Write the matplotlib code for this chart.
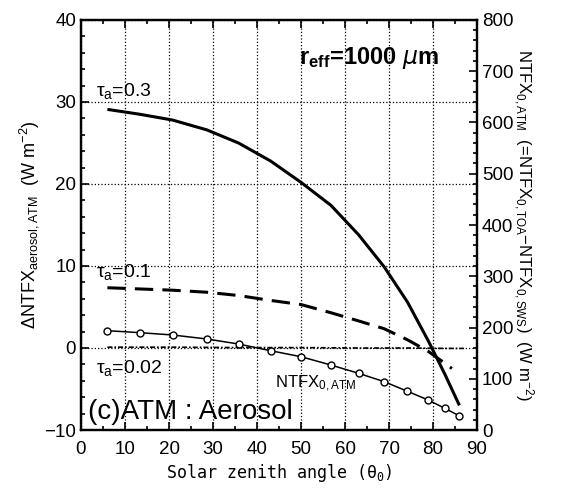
import matplotlib
matplotlib.use("Agg")
import matplotlib.pyplot as plt
from matplotlib.ticker import MultipleLocator

plt.rcParams['font.family'] = ['Liberation Sans', 'DejaVu Sans']
plt.rcParams['mathtext.default'] = 'regular'

# solar zenith angle grid (deg)
theta = [6.0, 13.4, 20.8, 28.6, 35.8, 43.1, 50.0, 56.8, 63.1, 68.9, 74.2, 78.9, 82.7, 86.0]

# Delta NTFX aerosol (left axis, W m-2)
tau_03 = [29.1, 28.5, 27.8, 26.6, 25.0, 22.8, 20.2, 17.4, 13.8, 9.9, 5.6, 0.9, -3.2, -7.0]
theta_01 = [6.0, 13.4, 20.8, 28.6, 35.8, 43.1, 50.0, 56.8, 63.1, 68.9, 74.2, 78.9, 82.0, 84.3]
tau_01 = [7.35, 7.2, 7.05, 6.8, 6.4, 5.8, 5.3, 4.3, 3.3, 2.35, 1.0, -0.4, -1.6, -2.5]
theta_002 = [6.0, 20.8, 35.8, 50.0, 63.1, 74.2, 82.7, 87.0]
tau_002 = [0.1, 0.1, 0.05, 0.05, 0.0, 0.0, -0.05, -0.05]

# NTFX_0,ATM (right axis, W m-2)
ntfx_atm = [193.8, 189.9, 185.4, 177.6, 167.8, 154.7, 143.0, 126.8, 110.6, 94.3, 75.5, 58.5, 42.3, 27.5]

fig = plt.figure(figsize=(5.65, 4.9), dpi=100)
ax = fig.add_axes([81 / 565, 60 / 490, 396 / 565, 410 / 490])
ax2 = ax.twinx()

ax.plot(theta, tau_03, color="black", lw=2.2, solid_capstyle="butt")
ax.plot(theta_01, tau_01, color="black", lw=2.2, dashes=(6, 3))
ax.plot(theta_002, tau_002, color="black", lw=1.2, dashes=(3, 1.2, 1, 1.2))
ax2.plot(theta, ntfx_atm, color="black", lw=1.1, marker="o", ms=5,
         mfc="white", mec="black", mew=1.0)

ax.set_xlim(0, 90)
ax.set_ylim(-10, 40)
ax2.set_ylim(0, 800)

ax.xaxis.set_major_locator(MultipleLocator(10))
ax.xaxis.set_minor_locator(MultipleLocator(5))
ax.yaxis.set_major_locator(MultipleLocator(10))
ax.yaxis.set_minor_locator(MultipleLocator(2))
ax2.yaxis.set_major_locator(MultipleLocator(100))
ax2.yaxis.set_minor_locator(MultipleLocator(20))

ax.tick_params(which="both", direction="in", top=True, right=False, labelsize=13.5, width=1.2)
ax.tick_params(which="major", length=6)
ax.tick_params(which="minor", length=3)
ax.tick_params(axis="x", which="major", pad=8)
ax2.tick_params(which="both", direction="in", labelsize=13.5, width=1.2)
ax2.tick_params(which="major", length=6)
ax2.tick_params(which="minor", length=3)

for a in (ax, ax2):
    for s in a.spines.values():
        s.set_linewidth(1.6)

ax.grid(True, which="major", linestyle=":", color="black", lw=0.9)

ax.set_xlabel(r"Solar zenith angle ($\theta_0$)", family="DejaVu Sans Mono", fontsize=12, labelpad=3)
ax.set_ylabel(r"$\Delta$NTFX$_{aerosol,ATM}$  (W m$^{-2}$)", fontsize=13, labelpad=2)
ax2.set_ylabel(r"NTFX$_{0,ATM}$  (=NTFX$_{0,TOA}$$-$NTFX$_{0,SWS}$)  (W m$^{-2}$)",
               fontsize=12, rotation=-90, labelpad=16)

ax.text(3.5, 30.7, r"$\tau_a$=0.3", fontsize=14)
ax.text(3.5, 8.6, r"$\tau_a$=0.1", fontsize=14)
ax.text(3.5, -3.0, r"$\tau_a$=0.02", fontsize=14)
ax.text(44, -4.8, r"NTFX$_{0,ATM}$", fontsize=12)
ax.text(1.5, -8.7, "(c)ATM : Aerosol", fontsize=20)
ax.text(49.5, 34.6, r"r$_{eff}$=1000 $\mathit{\mu}$m", fontsize=17, fontweight="bold")

fig.savefig("out.png", dpi=100)
